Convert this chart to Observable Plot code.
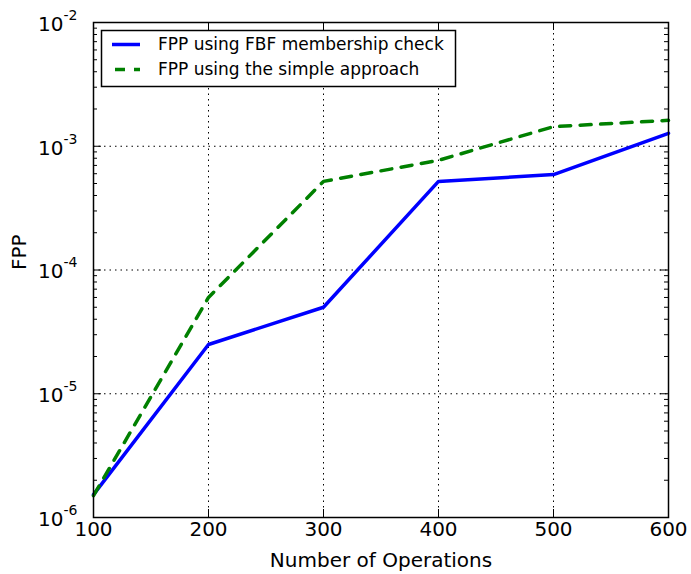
<!DOCTYPE html>
<html>
<head>
<meta charset="utf-8">
<script src="https://cdn.jsdelivr.net/npm/d3@7"></script>
<script src="https://cdn.jsdelivr.net/npm/@observablehq/plot@0.6"></script>
<style>
  html, body { margin: 0; padding: 0; background: white; }
  #wrap { position: relative; width: 691px; height: 574px; font-family: "DejaVu Sans", sans-serif; }
</style>
</head>
<body>
<div id="wrap"></div>
<script>
// ---- data ----
const operations = [100, 200, 300, 400, 500, 600];
const fppFBF = [1.53e-6, 2.5e-5, 5.0e-5, 5.2e-4, 5.9e-4, 1.27e-3];
const fppSimple = [1.5e-6, 6.0e-5, 5.2e-4, 7.7e-4, 1.44e-3, 1.62e-3];
const seriesNames = ["FPP using FBF membership check", "FPP using the simple approach"];
const seriesColors = ["#0000ff", "#008000"];

// ---- ticks ----
const xTicks = [100, 200, 300, 400, 500, 600];
const yMajor = [1e-6, 1e-5, 1e-4, 1e-3, 1e-2];
const yExponents = ["-6", "-5", "-4", "-3", "-2"];
const minorMultipliers = [2, 3, 4, 5, 6, 7, 8, 9];
const minorDecades = [1e-6, 1e-5, 1e-4, 1e-3];
const yMinor = minorDecades.flatMap(d => minorMultipliers.map(m => m * d));
const xLabel = "Number of Operations";
const yLabel = "FPP";

const W = 691, H = 574;
const mL = 93, mR = 23, mT = 22, mB = 57;
const fw = W - mL - mR, fh = H - mT - mB;

const rows = operations.map((x, i) => ({x, y: fppFBF[i], s: seriesNames[0]}));
const rowsSimple = operations.map((x, i) => ({x, y: fppSimple[i], s: seriesNames[1]}));
const yTickRows = yMajor.map((v, i) => ({v, e: yExponents[i]}));

const grid = {stroke: "black", strokeOpacity: 1, strokeWidth: 1, strokeDasharray: "1.5,4"};
const tick = {stroke: "black", strokeWidth: 1};

const chart = Plot.plot({
  width: W, height: H,
  marginLeft: mL, marginRight: mR, marginTop: mT, marginBottom: mB,
  x: {domain: [100, 600], axis: null},
  y: {type: "log", domain: [1e-6, 1e-2], axis: null},
  style: {fontFamily: "DejaVu Sans", background: "white", color: "black", overflow: "visible"},
  marks: [
    Plot.ruleX(xTicks, {x: d => d, ...grid}),
    Plot.ruleY(yMajor, {y: d => d, ...grid}),
    Plot.line(rows, {x: "x", y: "y", stroke: seriesColors[0], strokeWidth: 3.5, strokeLinejoin: "round"}),
    Plot.line(rowsSimple, {x: "x", y: "y", stroke: seriesColors[1], strokeWidth: 3.5, strokeDasharray: "11,9.5", strokeLinejoin: "round"}),
    // ticks (inward)
    Plot.ruleX(xTicks, {x: d => d, insetTop: fh - 8, ...tick}),
    Plot.ruleX(xTicks, {x: d => d, insetBottom: fh - 8, ...tick}),
    Plot.ruleY(yMajor, {y: d => d, insetRight: fw - 8, ...tick}),
    Plot.ruleY(yMajor, {y: d => d, insetLeft: fw - 8, ...tick}),
    Plot.ruleY(yMinor, {y: d => d, insetRight: fw - 4, ...tick}),
    Plot.ruleY(yMinor, {y: d => d, insetLeft: fw - 4, ...tick}),
    Plot.frame({stroke: "black", strokeWidth: 1.5}),
    // x tick labels
    Plot.text(xTicks, {x: d => d, text: d => String(d), frameAnchor: "bottom", lineAnchor: "top", dy: 4, fontSize: 20, fill: "black"}),
    // y tick labels with superscripts
    Plot.text(yTickRows, {y: "v", text: () => "10", frameAnchor: "left", textAnchor: "end", dx: -30, dy: 2, fontSize: 20, fill: "black"}),
    Plot.text(yTickRows, {y: "v", text: "e", frameAnchor: "left", textAnchor: "start", dx: -30, dy: -7, fontSize: 14, fill: "black"}),
    // axis labels
    Plot.text([xLabel], {text: d => d, frameAnchor: "bottom", lineAnchor: "middle", dy: 43, fontSize: 20, fill: "black"}),
    Plot.text([yLabel], {text: d => d, frameAnchor: "left", lineAnchor: "middle", rotate: -90, dx: -73.5, fontSize: 20, fill: "black"})
  ]
});

const wrap = document.getElementById("wrap");
wrap.appendChild(chart);

// legend overlay
const ns = "http://www.w3.org/2000/svg";
const lg = document.createElementNS(ns, "svg");
lg.setAttribute("width", W);
lg.setAttribute("height", 100);
lg.style.position = "absolute";
lg.style.left = "0px";
lg.style.top = "0px";
lg.style.pointerEvents = "none";
const box = document.createElementNS(ns, "rect");
box.setAttribute("x", 101.5); box.setAttribute("y", 30.5);
box.setAttribute("width", 354); box.setAttribute("height", 56);
box.setAttribute("fill", "white"); box.setAttribute("stroke", "black"); box.setAttribute("stroke-width", 1.5);
lg.appendChild(box);
const rowY = [44.5, 69.5];
seriesNames.forEach((name, i) => {
  const ln = document.createElementNS(ns, "line");
  ln.setAttribute("x1", 112); ln.setAttribute("x2", 140);
  ln.setAttribute("y1", rowY[i]); ln.setAttribute("y2", rowY[i]);
  ln.setAttribute("stroke", seriesColors[i]); ln.setAttribute("stroke-width", 3.5);
  if (i === 1) { ln.setAttribute("stroke-dasharray", "10,9"); ln.setAttribute("stroke-dashoffset", "16"); }
  lg.appendChild(ln);
  const t = document.createElementNS(ns, "text");
  t.setAttribute("x", 158); t.setAttribute("y", rowY[i]);
  t.setAttribute("dy", "0.35em");
  t.setAttribute("font-size", 17);
  t.setAttribute("font-family", "DejaVu Sans");
  t.setAttribute("fill", "black");
  t.textContent = name;
  lg.appendChild(t);
});
wrap.appendChild(lg);
</script>
</body>
</html>
